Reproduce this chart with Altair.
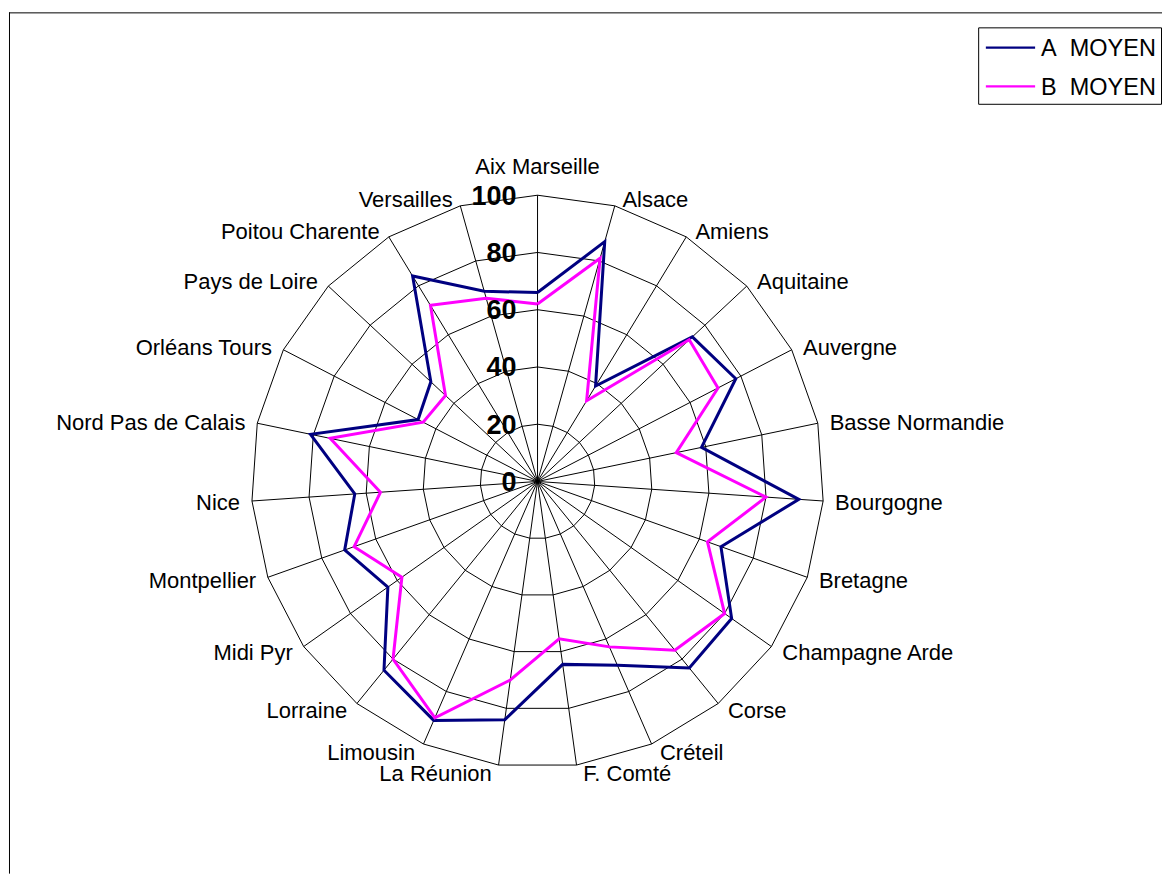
import altair as alt
import pandas as pd

# ---------------- data ----------------
categories = ["Aix Marseille", "Alsace", "Amiens", "Aquitaine", "Auvergne",
              "Basse Normandie", "Bourgogne", "Bretagne", "Champagne Arde", "Corse",
              "Créteil", "F. Comté", "La Réunion", "Limousin", "Lorraine",
              "Midi Pyr", "Montpellier", "Nice", "Nord Pas de Calais", "Orléans Tours",
              "Pays de Loire", "Poitou Charente", "Versailles"]
a_moyen = [66, 87, 39, 74, 78, 58.5, 91.5, 68, 83, 84, 70, 64.5, 84, 91, 85, 64,
           71.5, 64, 81, 47, 51, 84, 69]
b_moyen = [62, 81, 33, 72.5, 71, 49.5, 80, 63, 80, 76, 63, 55.5, 70, 90, 80, 58,
           68, 55, 74, 45, 44, 72, 66.5]
series_names = ["A\u00a0 MOYEN", "B\u00a0 MOYEN"]
series_colors = ["#000080", "#FF00FF"]
ring_ticks = [0, 20, 40, 60, 80, 100]

# ---------------- layout ----------------
FONT = "Liberation Sans"
N = len(categories)
W, H = 1154, 866
K = 2.865            # pixels per value unit
CX, CY = 537 - 8, 481.5 - 8   # centre inside the view
xmin = -CX / K
xmax = xmin + W / K
ymax = CY / K
ymin = ymax - H / K
xs = alt.Scale(domain=[xmin, xmax], nice=False, zero=False)
ys = alt.Scale(domain=[ymin, ymax], nice=False, zero=False)
TH = f"2*PI*datum.idx/{N}"

# ring grid
ring_df = pd.DataFrame([{"ring": r, "idx": i} for r in ring_ticks[1:] for i in range(N + 1)])
rings = (alt.Chart(ring_df)
         .transform_calculate(theta=TH)
         .transform_calculate(x="datum.ring*sin(datum.theta)")
         .transform_calculate(y="datum.ring*cos(datum.theta)")
         .mark_line(color="black", strokeWidth=1)
         .encode(x=alt.X("x:Q", scale=xs, axis=None),
                 y=alt.Y("y:Q", scale=ys, axis=None),
                 detail="ring:N", order="idx:Q"))

# spokes
cat_df = pd.DataFrame({"idx": list(range(N)), "category": categories})
spokes = (alt.Chart(cat_df)
          .transform_calculate(theta=TH)
          .transform_calculate(x0="0", y0="0")
          .transform_calculate(xe=f"{ring_ticks[-1]}*sin(datum.theta)")
          .transform_calculate(ye=f"{ring_ticks[-1]}*cos(datum.theta)")
          .mark_rule(color="black", strokeWidth=1)
          .encode(x=alt.X("x0:Q", scale=xs, axis=None), x2="xe:Q",
                  y=alt.Y("y0:Q", scale=ys, axis=None), y2="ye:Q"))

# series
rows = []
for s, vals in zip(series_names, [a_moyen, b_moyen]):
    for i in range(N + 1):
        rows.append({"series": s, "idx": i, "category": categories[i % N], "value": vals[i % N]})
ser_df = pd.DataFrame(rows)
lines = (alt.Chart(ser_df)
         .transform_calculate(theta=TH)
         .transform_calculate(x="datum.value*sin(datum.theta)")
         .transform_calculate(y="datum.value*cos(datum.theta)")
         .mark_line(strokeWidth=3, strokeJoin="miter")
         .encode(x=alt.X("x:Q", scale=xs, axis=None),
                 y=alt.Y("y:Q", scale=ys, axis=None),
                 color=alt.Color("series:N", scale=alt.Scale(domain=series_names, range=series_colors), legend=None),
                 detail="series:N", order="idx:Q"))

# radial tick labels
tick_df = pd.DataFrame({"tick": ring_ticks})
ticks = (alt.Chart(tick_df)
         .transform_calculate(x0="0")
         .mark_text(align="right", baseline="middle", dx=-21, dy=1.5, fontSize=27,
                    fontWeight="bold", font=FONT, color="black")
         .encode(x=alt.X("x0:Q", scale=xs, axis=None),
                 y=alt.Y("tick:Q", scale=ys, axis=None),
                 text="tick:Q"))

# category labels
LFS = 22
lab_base = (alt.Chart(cat_df)
            .transform_calculate(theta=TH)
            .transform_calculate(s="sin(datum.theta)", c="cos(datum.theta)")
            .transform_calculate(lx=f"abs(datum.s) < 0.05 ? 100*datum.s : 100*datum.s + (datum.s > 0 ? 1 : -1)*(6 + 6*abs(datum.s))/{K}")
            .transform_calculate(ly=f"100*datum.c + (8*datum.c - 1.5)/{K}"))
enc = dict(x=alt.X("lx:Q", scale=xs, axis=None), y=alt.Y("ly:Q", scale=ys, axis=None), text="category:N")
lab_right = lab_base.transform_filter("datum.s > 0.05").mark_text(
    align="left", baseline="middle", fontSize=LFS, font=FONT, color="black").encode(**enc)
lab_left = lab_base.transform_filter("datum.s < -0.05").mark_text(
    align="right", baseline="middle", fontSize=LFS, font=FONT, color="black").encode(**enc)
lab_center = lab_base.transform_filter("abs(datum.s) <= 0.05").mark_text(
    align="center", baseline="middle", dy=-22, fontSize=LFS, font=FONT, color="black").encode(**enc)

# frame (top and left edges)
one = pd.DataFrame({"k": [0]})
frame_top = alt.Chart(one).mark_rule(color="black", strokeWidth=1).encode(
    x=alt.value(0), x2=alt.value(W), y=alt.value(4.5))
frame_left = alt.Chart(one).mark_rule(color="black", strokeWidth=1).encode(
    x=alt.value(0.5), y=alt.value(4), y2=alt.value(H))

# legend (kept inside the view so the page does not overflow)
leg_box = alt.Chart(one).mark_rect(fill="white", stroke="black", strokeWidth=1).encode(
    x=alt.value(970.5), x2=alt.value(W - 0.5), y=alt.value(19.5), y2=alt.value(96))
leg_layers = [leg_box]
for r, (name, col) in enumerate(zip(series_names, series_colors)):
    yy = 39.3 + 38.7 * r
    d = pd.DataFrame({"series": [name]})
    leg_layers.append(alt.Chart(d).mark_rule(color=col, strokeWidth=2.2).encode(
        x=alt.value(977.7), x2=alt.value(1027), y=alt.value(yy)))
    leg_layers.append(alt.Chart(d).mark_text(align="left", baseline="middle", fontSize=23.5,
                                             font=FONT, color="black").encode(
        x=alt.value(1033), y=alt.value(yy + 1.3), text="series:N"))

chart = alt.layer(rings, spokes, lines, ticks, lab_right, lab_left, lab_center,
                  frame_top, frame_left, *leg_layers).properties(
    width=W, height=H, padding=0, background="white"
).configure_view(stroke=None)

chart.save("out.html", embed_options={"renderer": "svg", "actions": False})
